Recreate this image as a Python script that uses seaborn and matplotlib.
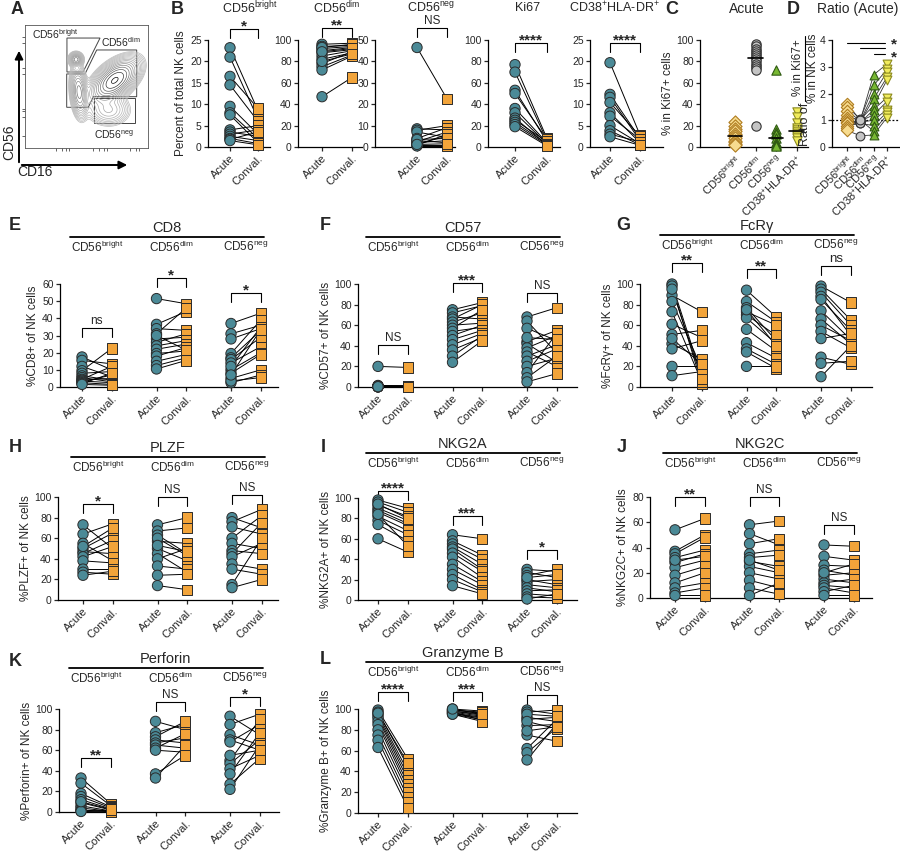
import numpy as np
import pandas as pd
import matplotlib.pyplot as plt
import seaborn as sns
from matplotlib.patches import Polygon, Rectangle, FancyArrowPatch
from matplotlib.lines import Line2D
from matplotlib.transforms import blended_transform_factory

sns.set_style("ticks")
plt.rcParams['font.family'] = ['Liberation Sans', 'DejaVu Sans']
plt.rcParams['mathtext.fontset'] = 'custom'
plt.rcParams['mathtext.rm'] = 'Liberation Sans'
plt.rcParams['mathtext.it'] = 'Liberation Sans:italic'
plt.rcParams['mathtext.bf'] = 'Liberation Sans:bold'
plt.rcParams['axes.linewidth'] = 0.9
plt.rcParams['axes.edgecolor'] = 'black'

TEAL = '#4b8a97'
ORANGE = '#f2a43a'
EDGE = '#2b2b2b'

def sup(base, s):
    return base + r'$^{\mathrm{' + s + '}}$'

SUBSETS = [sup('CD56', 'bright'), sup('CD56', 'dim'), sup('CD56', 'neg')]
KI_CATS = SUBSETS + [r'CD38$^{+}$HLA-DR$^{+}$']

# ---------------- data ----------------
# B: percent of total NK cells (acute vs conval.)
B_TITLES = [sup('CD56', 'bright'), sup('CD56', 'dim'), sup('CD56', 'neg'), 'Ki67', r'CD38$^{+}$HLA-DR$^{+}$']
B_SIG = ['*', '**', 'NS', '****', '****']
BRIGHT_ACUTE = [23.2, 21.0, 16.5, 14.5, 9.5, 8.0, 7.5, 4.0, 3.5, 3.0, 2.5, 2.0, 1.8, 1.5]
BRIGHT_CONVAL = [8.5, 6.5, 9.0, 6.0, 3.0, 2.0, 1.0, 5.0, 2.5, 4.0, 1.5, 0.8, 3.5, 0.5]
DIM_ACUTE = [96, 94, 92, 90, 88, 85, 82, 78, 75, 72, 47, 93, 89, 80]
DIM_CONVAL = [97, 95, 94, 93, 91, 90, 88, 89, 86, 85, 65, 96, 92, 87]
NEG_ACUTE = [46.5, 8.5, 7.8, 7.0, 4.0, 3.0, 2.5, 2.0, 1.5, 1.0, 0.8, 0.5, 3.5, 1.2]
NEG_CONVAL = [22.5, 8.0, 10.0, 4.5, 9.0, 2.0, 7.0, 3.0, 5.0, 1.0, 6.0, 0.5, 4.0, 1.5]
KI67_ACUTE = [77, 70, 53, 50, 36, 32, 27, 25, 23, 21, 19]
KI67_CONVAL = [8, 6, 5, 7, 4, 3, 2, 5, 3, 2, 1]
CD38_ACUTE = [19.7, 12.3, 11.6, 10.4, 8.0, 7.2, 5.0, 3.8, 3.0, 2.4]
CD38_CONVAL = [2.8, 2.0, 1.5, 2.5, 1.0, 1.8, 0.8, 0.5, 1.2, 0.4]

# C: % in Ki67+ cells (acute)
C_BRIGHT = [23, 20, 17, 15, 12, 10, 8, 6, 5, 3, 2]
C_DIM = [96, 94, 92, 90, 88, 86, 84, 82, 80, 78, 76, 74, 72, 20]
C_NEG = [72, 17, 14, 12, 8, 5, 3, 2, 1]
C_CD38 = [33, 28, 22, 18, 16, 14, 12, 10, 8, 6]

# D: ratio per donor
D_BRIGHT = [1.62, 1.5, 1.35, 1.2, 1.1, 1.0, 0.95, 0.9, 0.8, 0.7, 0.62]
D_DIM = [1.0, 1.05, 0.98, 0.95, 1.02, 0.9, 0.97, 0.93, 0.88, 1.0, 0.42]
D_NEG = [2.7, 2.3, 2.0, 1.8, 1.55, 1.4, 1.2, 1.0, 0.8, 0.6, 0.45]
D_CD38 = [3.1, 2.9, 2.8, 2.6, 2.5, 1.85, 1.7, 1.4, 1.3, 1.2, 1.1]

# E: CD8
CD8_BRIGHT_A = [17.5, 15.5, 12.0, 9.5, 8.0, 6.5, 5.5, 4.5, 4.0, 3.5, 3.0, 2.5, 2.0, 1.5]
CD8_BRIGHT_C = [10.0, 13.5, 6.0, 22.5, 9.0, 4.0, 3.0, 12.0, 5.0, 2.5, 7.0, 1.5, 8.0, 1.0]
CD8_DIM_A = [51.5, 36.5, 34.0, 31.0, 28.0, 26.0, 24.0, 22.0, 19.5, 18.0, 15.0, 12.5, 10.5, 30.0]
CD8_DIM_C = [48.5, 44.0, 33.0, 46.0, 29.0, 31.0, 27.0, 25.0, 21.0, 23.0, 19.0, 17.0, 15.5, 21.5]
CD8_NEG_A = [37.0, 31.0, 28.0, 19.5, 17.0, 16.0, 14.0, 10.0, 8.0, 5.0, 2.5, 12.0, 3.5, 7.0]
CD8_NEG_C = [43.0, 36.0, 34.0, 39.0, 33.0, 29.0, 23.5, 20.0, 19.0, 10.0, 7.0, 35.0, 5.5, 33.5]

# F: CD57
CD57_BRIGHT_A = [20, 1.5, 1.0, 0.8, 0.5, 0.3, 0.2, 0.1, 0.5, 1.0, 0.2, 0.4, 0.6, 0.3]
CD57_BRIGHT_C = [19, 1.2, 0.5, 1.0, 0.8, 0.4, 0.3, 0.2, 0.6, 0.9, 0.3, 0.5, 0.7, 0.2]
CD57_DIM_A = [75, 72, 68, 66, 63, 60, 57, 54, 50, 46, 41, 36, 30, 24]
CD57_DIM_C = [82, 79, 66, 80, 72, 62, 75, 58, 60, 55, 52, 48, 50, 45]
CD57_NEG_A = [68, 64, 57, 44, 42, 38, 34, 30, 25, 20, 14, 9, 5, 48]
CD57_NEG_C = [77, 33, 45, 55, 24, 50, 20, 41, 37, 28, 52, 30, 13, 46]

# G: FcRγ
FCR_BRIGHT_A = [100, 98, 89, 83, 73, 61, 51, 42, 37, 20, 11, 95, 47]
FCR_BRIGHT_C = [10, 3, 73, 18, 5, 48, 55, 27, 45, 20, 15, 8, 22]
FCR_DIM_A = [94, 83, 77, 73, 70, 67, 56, 43, 37, 34, 20, 75]
FCR_DIM_C = [68, 63, 45, 60, 50, 42, 35, 28, 22, 18, 20, 40]
FCR_NEG_A = [98, 95, 92, 88, 85, 74, 66, 60, 54, 47, 29, 23, 10]
FCR_NEG_C = [82, 65, 60, 50, 55, 46, 42, 45, 38, 52, 22, 25, 40]

# H: PLZF
PLZF_BRIGHT_A = [73, 64, 55, 50, 47, 45, 42, 38, 30, 27, 24, 52]
PLZF_BRIGHT_C = [50, 74, 38, 65, 45, 58, 52, 36, 30, 25, 28, 70]
PLZF_DIM_A = [73, 67, 63, 57, 50, 45, 40, 33, 24, 14, 60, 53]
PLZF_DIM_C = [80, 70, 45, 55, 38, 27, 50, 30, 25, 10, 43, 47]
PLZF_NEG_A = [80, 76, 71, 60, 55, 48, 45, 42, 35, 30, 15, 12]
PLZF_NEG_C = [70, 88, 64, 82, 50, 45, 75, 55, 30, 25, 60, 20]

# I: NKG2A
NKG2A_BRIGHT_A = [98, 96, 93, 90, 88, 86, 82, 78, 74, 60, 94, 84]
NKG2A_BRIGHT_C = [90, 86, 82, 78, 75, 73, 68, 64, 58, 47, 80, 53]
NKG2A_DIM_A = [64, 58, 55, 52, 50, 46, 42, 35, 30, 25, 20, 14]
NKG2A_DIM_C = [60, 44, 40, 35, 30, 28, 22, 18, 15, 10, 8, 6]
NKG2A_NEG_A = [30, 27, 24, 20, 18, 15, 12, 9, 6, 3, 1, 22]
NKG2A_NEG_C = [28, 22, 30, 15, 20, 12, 8, 10, 4, 2, 6, 25]

# J: NKG2C
NKG2C_BRIGHT_A = [54, 37, 35, 32, 28, 24, 18, 12, 8, 4, 2, 30]
NKG2C_BRIGHT_C = [63, 50, 48, 38, 35, 30, 25, 20, 12, 8, 2, 33]
NKG2C_DIM_A = [58, 51, 43, 35, 32, 29, 25, 20, 14, 8, 2, 30]
NKG2C_DIM_C = [61, 42, 47, 38, 34, 25, 20, 15, 8, 3, 12, 22]
NKG2C_NEG_A = [42, 33, 26, 22, 18, 15, 12, 10, 8, 5, 2, 20]
NKG2C_NEG_C = [41, 30, 25, 18, 20, 12, 15, 8, 4, 10, 2, 27]

# K: Perforin
PERF_BRIGHT_A = [33, 28, 18, 15, 12, 9, 6, 4, 2, 1, 0.5, 10]
PERF_BRIGHT_C = [8, 6, 5, 4, 3, 2, 1, 0.5, 0.3, 1.5, 0.2, 2.5]
PERF_DIM_A = [88, 77, 73, 70, 67, 65, 62, 60, 37, 33]
PERF_DIM_C = [80, 85, 88, 67, 72, 62, 76, 58, 55, 65]
PERF_NEG_A = [93, 85, 75, 70, 68, 50, 47, 42, 37, 27, 22, 55]
PERF_NEG_C = [75, 95, 65, 60, 85, 90, 70, 55, 77, 52, 65, 60]

# L: Granzyme B
GZMB_BRIGHT_A = [99, 97, 95, 93, 91, 88, 85, 80, 75, 70, 63, 96]
GZMB_BRIGHT_C = [52, 45, 40, 36, 32, 28, 24, 20, 15, 10, 5, 48]
GZMB_DIM_A = [100, 99, 98, 97, 96, 95, 97, 98, 99, 96, 95, 100]
GZMB_DIM_C = [98, 96, 95, 93, 92, 90, 89, 94, 97, 91, 88, 95]
GZMB_NEG_A = [99, 97, 92, 90, 84, 75, 62, 58, 51, 95, 88, 79]
GZMB_NEG_C = [95, 99, 88, 92, 85, 69, 90, 82, 86, 93, 81, 83]

# A: flow density blobs (axes units)
FLOW_CX = [0.73, 0.415, 0.44, 0.68]
FLOW_CY = [0.55, 0.72, 0.455, 0.31]
FLOW_SX = [0.10, 0.025, 0.03, 0.08]
FLOW_SY = [0.055, 0.025, 0.09, 0.06]
FLOW_ANGLE = [40, 0, 5, 0]
FLOW_W = [1.0, 0.45, 0.45, 0.12]

# ---------------- layout helpers ----------------
W, H = 900, 856
UNIT = 29.8
GAP = 2.5
fig = plt.figure(figsize=(9, 8.56), dpi=100)


def px_axes(x0, y0, x1, y1):
    return fig.add_axes([x0 / W, 1 - y1 / H, (x1 - x0) / W, (y1 - y0) / H])


def fxy(x, y):
    return x / W, 1 - y / H


def letter(ch, x, y):
    fig.text(*fxy(x, y), ch, fontsize=13, fontweight='bold', ha='center', va='center')


def style_axes(ax):
    sns.despine(ax=ax)
    ax.tick_params(axis='y', labelsize=7.5, length=3, width=0.9, pad=1.5)
    ax.tick_params(axis='x', labelsize=8, length=3, width=0.9, pad=1.5)


def bracket(ax, x0, x1, yf, label, hpx, fs=8.5):
    tr = blended_transform_factory(ax.transData, ax.transAxes)
    drop = 9 / hpx
    ax.plot([x0, x0, x1, x1], [yf - drop, yf, yf, yf - drop], color='black', lw=0.8,
            transform=tr, clip_on=False)
    if '*' in label:
        ax.text((x0 + x1) / 2, yf - 1.5 / hpx, label, transform=tr, ha='center', va='baseline',
                fontsize=11, fontweight='bold')
    else:
        ax.text((x0 + x1) / 2, yf + 1 / hpx, label, transform=tr, ha='center', va='bottom',
                fontsize=fs)


def draw_pairs(ax, groups):
    rows = []
    for g, (acute, conval) in enumerate(groups):
        for d, (a, c) in enumerate(zip(acute, conval)):
            rows.append((f'{g}_{d}', g * GAP, 'Acute', a))
            rows.append((f'{g}_{d}', g * GAP + 1, 'Conval.', c))
    df = pd.DataFrame(rows, columns=['donor', 'pos', 'cond', 'value'])
    sns.lineplot(data=df, x='pos', y='value', units='donor', estimator=None, color='black',
                 lw=0.7, ax=ax, legend=False, clip_on=False)
    sns.scatterplot(data=df, x='pos', y='value', hue='cond', style='cond',
                    markers={'Acute': 'o', 'Conval.': 's'},
                    palette={'Acute': TEAL, 'Conval.': ORANGE},
                    s=55, edgecolor=EDGE, linewidth=0.7, ax=ax, legend=False,
                    clip_on=False, zorder=3)
    ax.set_xticks([g * GAP + k for g in range(len(groups)) for k in (0, 1)])
    ax.set_xticklabels(['Acute', 'Conval.'] * len(groups), rotation=45, ha='right',
                       rotation_mode='anchor')
    ax.set_xlabel('')


# ---------------- A: flow plot ----------------
axA = px_axes(25, 25, 148, 148)
xx, yy = np.meshgrid(np.linspace(0, 1, 240), np.linspace(0, 1, 240))
zz = np.zeros_like(xx)
for cx, cy, sx, sy, ang, w in zip(FLOW_CX, FLOW_CY, FLOW_SX, FLOW_SY, FLOW_ANGLE, FLOW_W):
    t = np.deg2rad(ang)
    u = (xx - cx) * np.cos(t) + (yy - cy) * np.sin(t)
    v = -(xx - cx) * np.sin(t) + (yy - cy) * np.cos(t)
    zz += w * np.exp(-0.5 * (u ** 2 / sx ** 2 + v ** 2 / sy ** 2))
axA.contour(xx, yy, zz, levels=np.geomspace(0.01, 0.95, 16), cmap='Greys',
            vmin=-0.6, vmax=1.0, linewidths=0.5)
axA.add_patch(Polygon([(0.341, 0.894), (0.610, 0.894), (0.472, 0.618), (0.341, 0.618)],
                      closed=True, fill=False, lw=0.7, ec='#444'))
axA.add_patch(Polygon([(0.583, 0.797), (0.908, 0.797), (0.908, 0.417), (0.555, 0.417),
                       (0.515, 0.331), (0.339, 0.331), (0.339, 0.602), (0.488, 0.602)],
                      closed=True, fill=False, lw=0.7, ec='#444'))
axA.add_patch(Rectangle((0.561, 0.203), 0.333, 0.204, fill=False, lw=0.7, ec='#444'))
axA.text(0.06, 0.93, sup('CD56', 'bright'), fontsize=7.5, transform=axA.transAxes, va='center')
axA.text(0.62, 0.86, sup('CD56', 'dim'), fontsize=7.5, transform=axA.transAxes, va='center')
axA.text(0.56, 0.11, sup('CD56', 'neg'), fontsize=7.5, transform=axA.transAxes, va='center')
axA.set_xlim(0, 1)
axA.set_ylim(0, 1)
axA.set_xticks([0.25, 0.3, 0.33, 0.36, 0.55, 0.6, 0.64, 0.67, 0.85, 0.9, 0.93])
axA.set_yticks([0.1, 0.25, 0.3, 0.32, 0.6, 0.65, 0.85, 0.9])
axA.tick_params(length=2, width=0.5, labelbottom=False, labelleft=False)
for sp in axA.spines.values():
    sp.set_linewidth(0.6)
    sp.set_color('#555')
fig.add_artist(FancyArrowPatch(fxy(19, 165), fxy(19, 48), transform=fig.transFigure,
                               arrowstyle='-|>', mutation_scale=12, lw=1.4, color='black'))
fig.add_artist(FancyArrowPatch(fxy(19, 165), fxy(130, 165), transform=fig.transFigure,
                               arrowstyle='-|>', mutation_scale=12, lw=1.4, color='black'))
fig.text(*fxy(9, 142), 'CD56', rotation=90, fontsize=10, ha='center', va='center')
fig.text(*fxy(35, 172), 'CD16', fontsize=10, ha='center', va='center')
letter('A', 17, 9)

# ---------------- B: five paired panels ----------------
B_BOX = [(208, 270, 230, 258), (298, 362, 322, 352), (375, 455, 417, 447),
         (488, 560, 515, 547), (590, 663, 610, 640)]
B_YMAX = [25, 100, 50, 100, 25]
B_YSTEP = [5, 20, 10, 20, 5]
B_SIGY = [1.1, 1.11, 1.11, 0.97, 0.97]
B_TITLE_X = [250, 337, 431, 528, 614]
B_DATA = [(BRIGHT_ACUTE, BRIGHT_CONVAL), (DIM_ACUTE, DIM_CONVAL), (NEG_ACUTE, NEG_CONVAL),
          (KI67_ACUTE, KI67_CONVAL), (CD38_ACUTE, CD38_CONVAL)]
for i, (x0, x1, xa, xc) in enumerate(B_BOX):
    ax = px_axes(x0, 40, x1, 147)
    draw_pairs(ax, [B_DATA[i]])
    unit = xc - xa
    ax.set_xlim((x0 - xa) / unit, (x1 - xa) / unit)
    ax.set_ylim(0, B_YMAX[i])
    ax.set_yticks(np.arange(0, B_YMAX[i] + 1, B_YSTEP[i]))
    ax.set_ylabel('Percent of total NK cells' if i == 0 else '', fontsize=8.5, labelpad=2)
    style_axes(ax)
    bracket(ax, 0, 1, B_SIGY[i], B_SIG[i], 107)
    fig.text(*fxy(B_TITLE_X[i], 8), B_TITLES[i], fontsize=9, ha='center', va='center')
letter('B', 177, 9)

# ---------------- C: Ki67+ composition ----------------
C_STYLE = {'marker': ['D', 'o', '^', 'v'],
           'face': ['#f7dc8f', '#c4c4c4', '#78b833', '#f1ec5c'],
           'edge': ['#b07d20', '#333333', '#2f5a12', '#8c8a1e']}
c_df = pd.DataFrame({'cat': np.repeat(KI_CATS, [len(C_BRIGHT), len(C_DIM), len(C_NEG), len(C_CD38)]),
                     'value': C_BRIGHT + C_DIM + C_NEG + C_CD38})
c_df['pos'] = c_df['cat'].map({c: k for k, c in enumerate(KI_CATS)})
axC = px_axes(700, 40, 808, 147)
for k, cat in enumerate(KI_CATS):
    sub = c_df[c_df['cat'] == cat]
    sns.scatterplot(data=sub, x='pos', y='value', marker=C_STYLE['marker'][k], s=45,
                    color=C_STYLE['face'][k], edgecolor=C_STYLE['edge'][k], linewidth=0.8,
                    ax=axC, legend=False, clip_on=False, zorder=3)
    med = sub['value'].median()
    axC.plot([k - 0.35, k + 0.35], [med, med], color='black', lw=1.2, zorder=4)
axC.set_xlim((700 - 735) / 20.5, (808 - 735) / 20.5)
axC.set_ylim(0, 100)
axC.set_yticks(np.arange(0, 101, 20))
axC.set_xticks(range(4))
axC.set_xticklabels(KI_CATS, rotation=45, ha='right', rotation_mode='anchor')
axC.set_xlabel('')
axC.set_ylabel('% in Ki67+ cells', fontsize=8.5, labelpad=2)
style_axes(axC)
fig.text(*fxy(747, 9), 'Acute', fontsize=10, ha='center', va='center')
letter('C', 672, 9)

# ---------------- D: ratio ----------------
d_rows = []
for d, vals in enumerate(zip(D_BRIGHT, D_DIM, D_NEG, D_CD38)):
    for k, v in enumerate(vals):
        d_rows.append((d, k, KI_CATS[k], v))
d_df = pd.DataFrame(d_rows, columns=['donor', 'pos', 'cat', 'value'])
axD = px_axes(832, 40, 900, 147)
sns.lineplot(data=d_df, x='pos', y='value', units='donor', estimator=None, color='#333333',
             lw=0.6, ax=axD, legend=False, clip_on=False)
for k, cat in enumerate(KI_CATS):
    sub = d_df[d_df['cat'] == cat]
    sns.scatterplot(data=sub, x='pos', y='value', marker=C_STYLE['marker'][k], s=40,
                    color=C_STYLE['face'][k], edgecolor=C_STYLE['edge'][k], linewidth=0.8,
                    ax=axD, legend=False, clip_on=False, zorder=3)
axD.axhline(1, color='black', lw=0.9, ls=(0, (1.5, 1.5)), zorder=1)
axD.set_xlim((832 - 847) / 13.3, (900 - 847) / 13.3)
axD.set_ylim(0, 4)
axD.set_yticks(range(5))
axD.set_xticks(range(4))
axD.set_xticklabels(KI_CATS, rotation=45, ha='right', rotation_mode='anchor')
axD.set_xlabel('')
axD.set_ylabel('')
style_axes(axD)
# y label: "Ratio of" + stacked fraction
fig.text(*fxy(805, 124), 'Ratio of', rotation=90, fontsize=9, ha='center', va='center')
fig.text(*fxy(798, 68), '% in Ki67+', rotation=90, fontsize=8.5, ha='center', va='center')
fig.text(*fxy(813, 68), '% in NK cells', rotation=90, fontsize=8.5, ha='center', va='center')
fig.add_artist(Line2D([805 / W, 805 / W], [1 - 101 / H, 1 - 36 / H], color='black', lw=0.8))
for x0, yv in [(0, 3.9), (1, 3.7), (2, 3.47)]:
    axD.plot([x0, 2.85], [yv, yv], color='black', lw=0.8, clip_on=False)
axD.text(3.55, 3.85, '*', fontsize=11, fontweight='bold', ha='center', va='center', clip_on=False)
axD.text(3.55, 3.35, '*', fontsize=11, fontweight='bold', ha='center', va='center', clip_on=False)
fig.text(*fxy(858, 9), 'Ratio (Acute)', fontsize=10, ha='center', va='center')
letter('D', 793, 9)

# ---------------- E-L: three-subset paired panels ----------------
PANELS = [
    ('E', (15, 225), (60, 284, 278, 387), 82, 237, 'CD8', '%CD8+ of NK cells', 60, 10,
     [(CD8_BRIGHT_A, CD8_BRIGHT_C), (CD8_DIM_A, CD8_DIM_C), (CD8_NEG_A, CD8_NEG_C)],
     ['ns', '*', '*'], [0.57, 1.06, 0.91]),
    ('F', (325, 225), (358, 284, 577, 387), 378, 237, 'CD57', '%CD57+ of NK cells', 100, 20,
     [(CD57_BRIGHT_A, CD57_BRIGHT_C), (CD57_DIM_A, CD57_DIM_C), (CD57_NEG_A, CD57_NEG_C)],
     ['NS', '***', 'NS'], [0.41, 1.01, 0.91]),
    ('G', (623, 226), (640, 284, 872, 387), 672, 235, 'FcRγ', '%FcRγ+ of NK cells', 100, 20,
     [(FCR_BRIGHT_A, FCR_BRIGHT_C), (FCR_DIM_A, FCR_DIM_C), (FCR_NEG_A, FCR_NEG_C)],
     ['**', '**', 'ns'], [1.2, 1.15, 1.17]),
    ('H', (15, 447), (58, 497, 278, 600), 83, 457, 'PLZF', '%PLZF+ of NK cells', 100, 20,
     [(PLZF_BRIGHT_A, PLZF_BRIGHT_C), (PLZF_DIM_A, PLZF_DIM_C), (PLZF_NEG_A, PLZF_NEG_C)],
     ['*', 'NS', 'NS'], [0.93, 1.0, 1.02]),
    ('I', (323, 447), (358, 498, 577, 600), 378, 453, 'NKG2A', '%NKG2A+ of NK cells', 100, 20,
     [(NKG2A_BRIGHT_A, NKG2A_BRIGHT_C), (NKG2A_DIM_A, NKG2A_DIM_C), (NKG2A_NEG_A, NKG2A_NEG_C)],
     ['****', '***', '*'], [1.07, 0.82, 0.49]),
    ('J', (622, 447), (650, 497, 872, 598), 675, 453, 'NKG2C', '%NKG2C+ of NK cells', 80, 20,
     [(NKG2C_BRIGHT_A, NKG2C_BRIGHT_C), (NKG2C_DIM_A, NKG2C_DIM_C), (NKG2C_NEG_A, NKG2C_NEG_C)],
     ['**', 'NS', 'NS'], [1.0, 1.0, 0.72]),
    ('K', (15, 662), (59, 709, 279, 812), 81, 668, 'Perforin', '%Perforin+ of NK cells', 100, 20,
     [(PERF_BRIGHT_A, PERF_BRIGHT_C), (PERF_DIM_A, PERF_DIM_C), (PERF_NEG_A, PERF_NEG_C)],
     ['**', 'NS', '*'], [0.52, 1.07, 1.12]),
    ('L', (325, 660), (358, 709, 577, 813), 378, 662, 'Granzyme B', '%Granzyme B+ of NK cells', 100, 20,
     [(GZMB_BRIGHT_A, GZMB_BRIGHT_C), (GZMB_DIM_A, GZMB_DIM_C), (GZMB_NEG_A, GZMB_NEG_C)],
     ['****', '***', 'NS'], [1.16, 1.16, 1.13]),
]

for (lt, lpos, box, first_px, line_y, title, ylabel, ymax, ystep, groups, sigs, sig_y) in PANELS:
    x0, y0, x1, y1 = box
    ax = px_axes(x0, y0, x1, y1)
    draw_pairs(ax, groups)
    ax.set_xlim((x0 - first_px) / UNIT, (x1 - first_px) / UNIT)
    ax.set_ylim(0, ymax)
    ax.set_yticks(np.arange(0, ymax + 1, ystep))
    ax.set_ylabel(ylabel, fontsize=8.5, labelpad=2)
    style_axes(ax)
    for g, (lab, yf) in enumerate(zip(sigs, sig_y)):
        bracket(ax, g * GAP, g * GAP + 1, yf, lab, y1 - y0, fs=9.5 if lab == 'ns' and lt == 'G' else 8.5)
    tr = blended_transform_factory(ax.transData, fig.transFigure)
    ax.plot([-0.4, 6.1], [1 - line_y / H] * 2, color='black', lw=1.3, transform=tr, clip_on=False)
    ax.text(2.85, 1 - (line_y - 2) / H, title, transform=tr, ha='center', va='bottom', fontsize=10.5)
    for g, sub in enumerate(SUBSETS):
        ax.text(g * GAP + 0.5, 1 - (line_y + 3) / H, sub, transform=tr, ha='center', va='top',
                fontsize=8.5)
    letter(lt, *lpos)

fig.savefig('out.png', dpi=100)
